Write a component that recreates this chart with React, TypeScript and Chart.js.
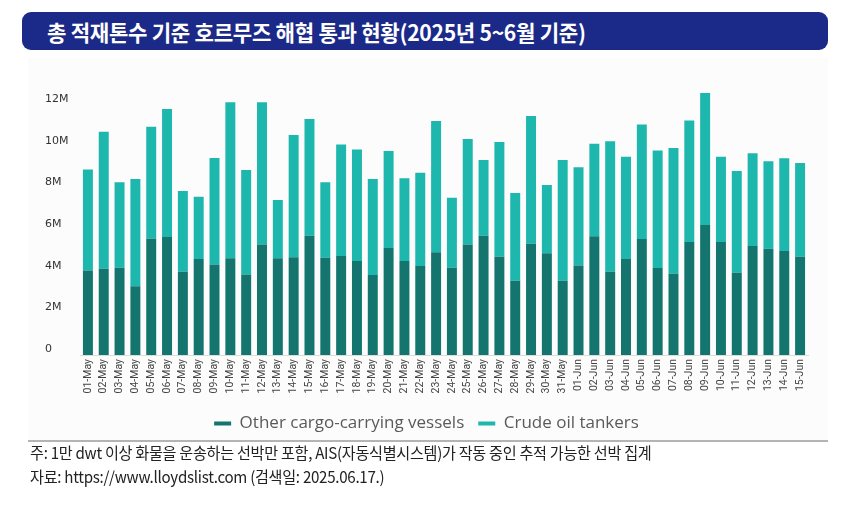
import { useEffect, useRef } from "react"
import { Chart, registerables } from "chart.js"

Chart.register(...registerables)

const dates = [
  "01-May", "02-May", "03-May", "04-May", "05-May", "06-May", "07-May", "08-May",
  "09-May", "10-May", "11-May", "12-May", "13-May", "14-May", "15-May", "16-May",
  "17-May", "18-May", "19-May", "20-May", "21-May", "22-May", "23-May", "24-May",
  "25-May", "26-May", "27-May", "28-May", "29-May", "30-May", "31-May",
  "01-Jun", "02-Jun", "03-Jun", "04-Jun", "05-Jun", "06-Jun", "07-Jun", "08-Jun",
  "09-Jun", "10-Jun", "11-Jun", "12-Jun", "13-Jun", "14-Jun", "15-Jun",
]

// million dwt
const otherCargo = [
  4.06, 4.14, 4.19, 3.3, 5.58, 5.66, 4.0, 4.61, 4.34, 4.64, 3.87, 5.31, 4.64, 4.69, 5.73, 4.67,
  4.75, 4.51, 3.84, 5.14, 4.51, 4.27, 4.93, 4.19, 5.3, 5.73, 4.72, 3.57, 5.34, 4.88, 3.57,
  4.3, 5.7, 4.0, 4.61, 5.57, 4.18, 3.9, 5.42, 6.24, 5.42, 3.95, 5.23, 5.1, 4.99, 4.72,
]

const crudeTankers = [
  4.85, 6.58, 4.1, 5.15, 5.38, 6.15, 3.87, 2.99, 5.12, 7.49, 5.01, 6.82, 2.8, 5.87, 5.6, 3.62,
  5.36, 5.36, 4.61, 4.65, 3.97, 4.48, 6.3, 3.36, 5.07, 3.63, 5.5, 4.21, 6.13, 3.28, 5.79,
  4.71, 4.44, 6.26, 4.91, 5.5, 5.64, 6.04, 5.84, 6.34, 4.1, 4.88, 4.45, 4.2, 4.45, 4.5,
]

const seriesNames = ["Other cargo-carrying vessels", "Crude oil tankers"]
const seriesColors = ["#13756e", "#1db7ae"]

const yMax = 13
const yStep = 2

function HormuzChart() {
  const chartRef = useRef<HTMLCanvasElement>(null)
  const chartInstance = useRef<Chart | null>(null)

  useEffect(() => {
    if (!chartRef.current) return
    if (chartInstance.current) chartInstance.current.destroy()

    const ctx = chartRef.current.getContext("2d")
    if (!ctx) return

    chartInstance.current = new Chart(ctx, {
      type: "bar",
      data: {
        labels: dates,
        datasets: [
          {
            label: seriesNames[0],
            data: otherCargo,
            backgroundColor: seriesColors[0],
            borderWidth: 0,
            categoryPercentage: 1,
            barPercentage: 0.63,
          },
          {
            label: seriesNames[1],
            data: crudeTankers,
            backgroundColor: seriesColors[1],
            borderWidth: 0,
            categoryPercentage: 1,
            barPercentage: 0.63,
          },
        ],
      },
      options: {
        animation: false,
        responsive: false,
        maintainAspectRatio: false,
        layout: { padding: { top: 24.17, left: 15, right: 12, bottom: 0 } },
        scales: {
          x: {
            stacked: true,
            grid: { display: false, drawTicks: false },
            border: { display: true, color: "#dcdcdc", width: 1 },
            ticks: {
              autoSkip: false,
              minRotation: 90,
              maxRotation: 90,
              padding: 4,
              color: "#444",
              font: { family: "Roboto", size: 10.5 },
            },
            afterFit: (scale) => {
              scale.height = 46
            },
          },
          y: {
            stacked: true,
            min: 0,
            max: yMax,
            grid: { display: false, drawTicks: false },
            border: { display: false },
            ticks: {
              stepSize: yStep,
              includeBounds: false,
              crossAlign: "far",
              labelOffset: -6,
              color: "#333",
              font: { family: "DejaVu Sans", size: 11 },
              callback: (v) => (Number(v) === 0 ? "0" : `${v}M`),
            },
            afterFit: (scale) => {
              scale.width = 35
            },
          },
        },
        plugins: {
          legend: {
            position: "bottom",
            labels: {
              usePointStyle: true,
              pointStyleWidth: 17,
              padding: 14,
              color: "#5a5a5a",
              font: { family: "Open Sans", size: 17 },
              generateLabels: (chart) =>
                Chart.defaults.plugins.legend.labels.generateLabels(chart).map((item, i) => ({
                  ...item,
                  pointStyle: "line",
                  lineWidth: 4,
                  strokeStyle: seriesColors[i],
                })),
            },
          },
          tooltip: { enabled: false },
        },
      },
    })

    return () => {
      if (chartInstance.current) {
        chartInstance.current.destroy()
        chartInstance.current = null
      }
    }
  }, [])

  return <canvas ref={chartRef} width={790} height={382} style={{ width: 790, height: 382 }} />
}

export default function App() {
  const korean = "'Noto Sans CJK KR', 'Noto Sans', sans-serif"
  return (
    <div style={{ position: "absolute", left: 0, top: 0, width: 846, height: 531, background: "#fff", overflow: "hidden" }}>
      <div
        style={{
          position: "absolute",
          left: 22,
          top: 12,
          width: 806,
          height: 38,
          background: "#1b2a88",
          borderRadius: 9,
        }}
      >
        <div
          style={{
            position: "absolute",
            left: 25,
            top: 0,
            lineHeight: "38px",
            color: "#fff",
            fontFamily: korean,
            fontWeight: 700,
            fontSize: 22,
            whiteSpace: "nowrap",
            transform: "scaleX(0.96)",
            transformOrigin: "left center",
            letterSpacing: -0.3,
          }}
        >
          총 적재톤수 기준 호르무즈 해협 통과 현황(2025년 5~6월 기준)
        </div>
      </div>
      <div style={{ position: "absolute", left: 28, top: 58, width: 800, height: 382, background: "#fcfcfc" }} />
      <div style={{ position: "absolute", left: 30, top: 60 }}>
        <HormuzChart />
      </div>
      <div style={{ position: "absolute", left: 28, top: 440, width: 800, height: 1.5, background: "#b4b4b4" }} />
      <div
        style={{
          position: "absolute",
          left: 30,
          top: 440,
          color: "#222",
          fontFamily: korean,
          fontSize: 16,
          lineHeight: "24px",
          whiteSpace: "nowrap",
          transform: "scaleX(0.945)",
          transformOrigin: "left top",
          letterSpacing: -0.3,
        }}
      >
        <div>주: 1만 dwt 이상 화물을 운송하는 선박만 포함, AIS(자동식별시스템)가 작동 중인 추적 가능한 선박 집계</div>
        <div>자료: https://www.lloydslist.com (검색일: 2025.06.17.)</div>
      </div>
    </div>
  )
}
